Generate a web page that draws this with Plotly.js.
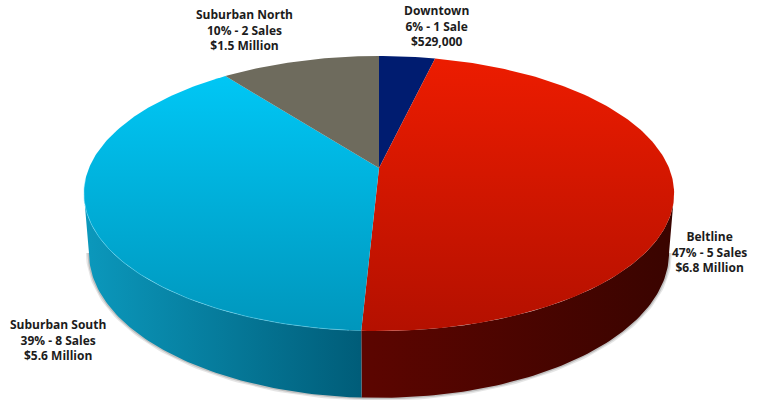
<!DOCTYPE html>
<html>
<head>
<meta charset="utf-8">
<script src="https://cdn.plot.ly/plotly-3.0.1.min.js"></script>
<style>html,body{margin:0;padding:0;background:#fff}#chart{width:763px;height:400px}</style>
</head>
<body>
<div id="chart"></div>
<script>
// Sales by submarket, in slice order clockwise from twelve o'clock.
const regions = ['Downtown', 'Beltline', 'Suburban South', 'Suburban North'];
const volumeMillions = [0.529, 6.8, 5.6, 1.5];
const shareLabels = ['6%', '47%', '39%', '10%'];
const salesLabels = ['1 Sale', '5 Sales', '8 Sales', '2 Sales'];
const volumeLabels = ['$529,000', '$6.8 Million', '$5.6 Million', '$1.5 Million'];

// Tilted-disc projection on a pixel-sized plot area.
const APEX_X = 379, TOP_Y = 168, TOP_A = 290, TOP_B = 132.8, TILT = 0.1855;
const BASE_Y = 226, BASE_A = 285, BASE_B = 140;
const deg = Math.PI / 180;
const EDGE = Math.acos(-TILT) / deg; // angle where the rim turns away from the viewer

function project(theta, a, b, y0) {
  const u = Math.sin(theta * deg), v = Math.cos(theta * deg), w = 1 + TILT * v;
  return [APEX_X + a * u / w, y0 - b * v / w];
}
const onTop = t => project(t, TOP_A, TOP_B, TOP_Y);
const onBase = t => project(t, BASE_A, BASE_B, BASE_Y);

function arc(from, to, fn) {
  const pts = [], n = Math.max(2, Math.ceil(Math.abs(to - from)));
  for (let i = 0; i <= n; i++) pts.push(fn(from + (to - from) * i / n));
  return pts;
}

const total = volumeMillions.reduce((s, v) => s + v, 0);
let running = 0;
const spans = volumeMillions.map(v => {
  const start = running;
  running += v / total * 360;
  return [start, running];
});

const vertical = (a, b, y1, y2) => ({type: 'vertical', start: y1, stop: y2, colorscale: [[0, a], [1, b]]});
const horizontal = (a, b, x1, x2) => ({type: 'horizontal', start: x1, stop: x2, colorscale: [[0, a], [1, b]]});

const topFill = [
  vertical('#001c70', '#001c70', 56, 168),
  vertical('#ec1c00', '#b41000', 60, 331),
  vertical('#00c6f4', '#0096bc', 80, 331),
  vertical('#6e6b5d', '#6e6b5d', 56, 168)
];

function poly(pts, extra) {
  return Object.assign({
    x: pts.map(p => p[0]), y: pts.map(p => p[1]),
    type: 'scatter', mode: 'lines', fill: 'toself', hoverinfo: 'skip',
    line: {width: 0}, showlegend: false
  }, extra);
}
function stroke(pts, color, width) {
  return {
    x: pts.map(p => p[0]), y: pts.map(p => p[1]),
    type: 'scatter', mode: 'lines', hoverinfo: 'skip', showlegend: false,
    line: {color, width}
  };
}

const traces = [];

// Soft shadow under the lower rim.
const shadowArc = arc(EDGE, 360 - EDGE, onBase);
traces.push(stroke(shadowArc, 'rgba(0,0,0,0.10)', 6));
traces.push(stroke(shadowArc, 'rgba(0,0,0,0.16)', 3));

// Side wall of the two slices that face the viewer.
const seam = spans[1][1];
traces.push(poly(arc(EDGE, seam, onTop).concat(arc(seam, EDGE, onBase)),
  {fillgradient: horizontal('#5c0500', '#3a0400', 364, 670)}));
traces.push(poly(arc(seam, 360 - EDGE, onTop).concat(arc(360 - EDGE, seam, onBase)),
  {fillgradient: horizontal('#0b98bc', '#005c78', 86, 364)}));

// Top face, one wedge per region.
spans.forEach((s, i) => {
  const pts = [[APEX_X, TOP_Y]].concat(arc(s[0], s[1], onTop));
  pts.push([APEX_X, TOP_Y]);
  traces.push(poly(pts, {fillgradient: topFill[i]}));
});

// Thin highlight where the blue top face meets its wall.
traces.push(stroke(arc(seam + 2, 360 - EDGE + 6, onTop), 'rgba(120,225,250,0.45)', 1));

const labelPos = [[436, 26], [709, 252], [58, 340], [244, 30]];
const annotations = regions.map((r, i) => ({
  x: labelPos[i][0], y: labelPos[i][1], xref: 'x', yref: 'y',
  xanchor: 'center', yanchor: 'middle', align: 'center', showarrow: false,
  text: r + '<br>' + shareLabels[i] + ' - ' + salesLabels[i] + '<br>' + volumeLabels[i],
  font: {family: '"Open Sans", sans-serif', size: 12, color: '#1c1c1c', weight: 700}
}));

Plotly.newPlot('chart', traces, {
  width: 763, height: 400,
  margin: {l: 0, r: 0, t: 0, b: 0},
  paper_bgcolor: '#fff', plot_bgcolor: '#fff',
  xaxis: {range: [0, 763], visible: false, fixedrange: true},
  yaxis: {range: [400, 0], visible: false, fixedrange: true},
  annotations, showlegend: false
}, {displayModeBar: false, staticPlot: true});
</script>
</body>
</html>
